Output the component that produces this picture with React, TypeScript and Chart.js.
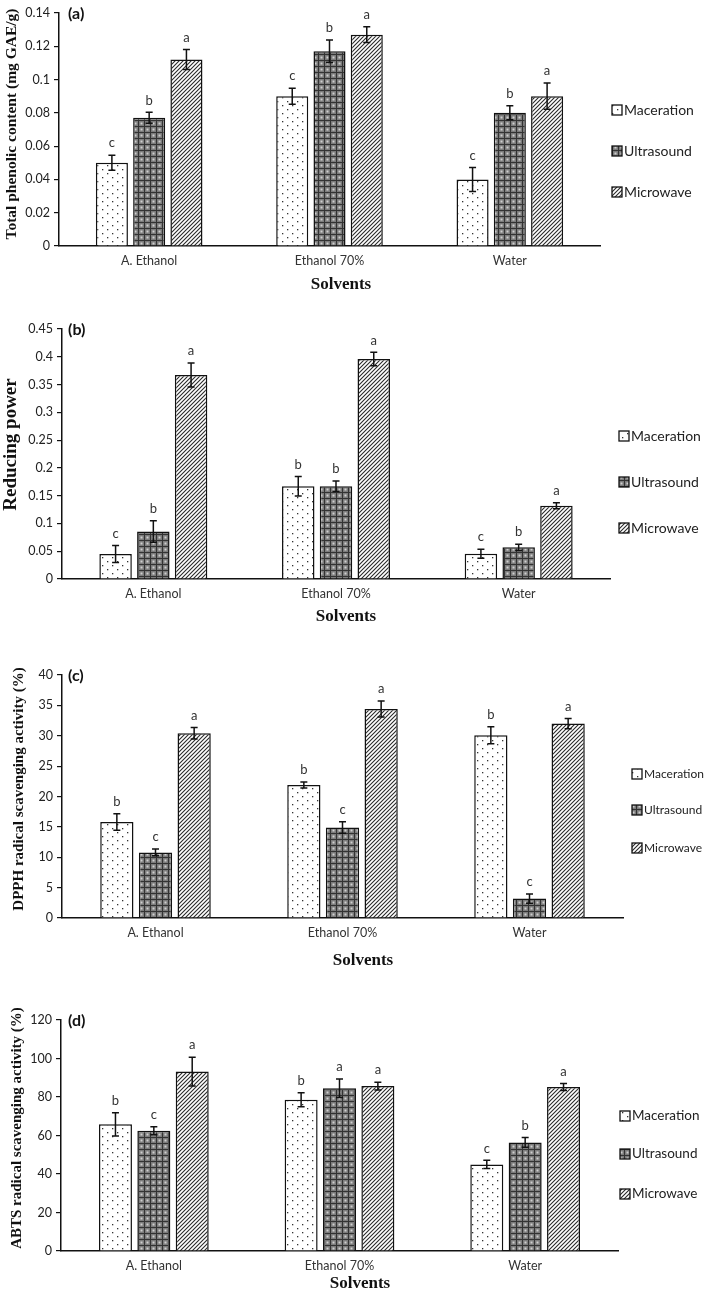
import React, { useEffect, useRef } from "react";
import { Chart, registerables } from "chart.js";
Chart.register(...registerables);

const categories = ["A. Ethanol", "Ethanol 70%", "Water"];
const seriesNames = ["Maceration", "Ultrasound", "Microwave"];

// (a) Total phenolic content
const tpcMaceration = [0.05, 0.09, 0.04];
const tpcUltrasound = [0.077, 0.117, 0.08];
const tpcMicrowave = [0.112, 0.127, 0.09];
const tpcMacerationErr = [0.0045, 0.0048, 0.0072];
const tpcUltrasoundErr = [0.0033, 0.0068, 0.0042];
const tpcMicrowaveErr = [0.006, 0.0047, 0.0079];
const tpcMacerationLetters = ["c", "c", "c"];
const tpcUltrasoundLetters = ["b", "b", "b"];
const tpcMicrowaveLetters = ["a", "a", "a"];
const tpcTicks = { max: 0.14, step: 0.02 };

// (b) Reducing power
const rpMaceration = [0.045, 0.167, 0.0455];
const rpUltrasound = [0.0855, 0.167, 0.057];
const rpMicrowave = [0.367, 0.396, 0.132];
const rpMacerationErr = [0.0155, 0.0175, 0.008];
const rpUltrasoundErr = [0.0195, 0.0095, 0.0055];
const rpMicrowaveErr = [0.0216, 0.012, 0.0054];
const rpMacerationLetters = ["c", "b", "c"];
const rpUltrasoundLetters = ["b", "b", "b"];
const rpMicrowaveLetters = ["a", "a", "a"];
const rpTicks = { max: 0.45, step: 0.05 };

// (c) DPPH
const dpphMaceration = [15.8, 21.9, 30.1];
const dpphUltrasound = [10.8, 14.9, 3.2];
const dpphMicrowave = [30.4, 34.4, 32.0];
const dpphMacerationErr = [1.35, 0.5, 1.4];
const dpphUltrasoundErr = [0.55, 0.95, 0.77];
const dpphMicrowaveErr = [0.95, 1.3, 0.85];
const dpphMacerationLetters = ["b", "b", "b"];
const dpphUltrasoundLetters = ["c", "c", "c"];
const dpphMicrowaveLetters = ["a", "a", "a"];
const dpphTicks = { max: 40, step: 5 };

// (d) ABTS
const abtsMaceration = [65.8, 78.6, 45.0];
const abtsUltrasound = [62.5, 84.5, 56.4];
const abtsMicrowave = [93.2, 85.7, 85.2];
const abtsMacerationErr = [6, 3.6, 2.1];
const abtsUltrasoundErr = [2.1, 4.8, 2.5];
const abtsMicrowaveErr = [7.5, 2, 1.8];
const abtsMacerationLetters = ["b", "b", "c"];
const abtsUltrasoundLetters = ["c", "a", "b"];
const abtsMicrowaveLetters = ["a", "a", "a"];
const abtsTicks = { max: 120, step: 20 };

const SANS = "Lato, 'Open Sans', sans-serif";
const SERIF = "'Liberation Serif', 'DejaVu Serif', serif";

function makePatterns(ctx: CanvasRenderingContext2D) {
  // dots
  const c1 = document.createElement("canvas");
  c1.width = 10; c1.height = 8;
  const g1 = c1.getContext("2d")!;
  g1.fillStyle = "#ffffff"; g1.fillRect(0, 0, 10, 8);
  g1.fillStyle = "#333333";
  g1.fillRect(2, 1, 1.3, 1.3);
  g1.fillRect(7, 5, 1.3, 1.3);
  // crosshatch gray
  const c2 = document.createElement("canvas");
  c2.width = 6; c2.height = 6;
  const g2 = c2.getContext("2d")!;
  g2.fillStyle = "#7c7c7c"; g2.fillRect(0, 0, 6, 6);
  g2.fillStyle = "#333333";
  g2.fillRect(0, 0, 6, 1);
  g2.fillRect(0, 0, 1, 6);
  g2.fillStyle = "#d0d0d0";
  g2.fillRect(2.5, 2.5, 2, 2);
  // diagonal
  const c3 = document.createElement("canvas");
  c3.width = 4; c3.height = 4;
  const g3 = c3.getContext("2d")!;
  g3.fillStyle = "#ffffff"; g3.fillRect(0, 0, 4, 4);
  g3.strokeStyle = "#2a2a2a"; g3.lineWidth = 1.1;
  g3.beginPath();
  g3.moveTo(0, 4); g3.lineTo(4, 0);
  g3.moveTo(-1, 1); g3.lineTo(1, -1);
  g3.moveTo(3, 5); g3.lineTo(5, 3);
  g3.stroke();
  return [
    ctx.createPattern(c1, "repeat")!,
    ctx.createPattern(c2, "repeat")!,
    ctx.createPattern(c3, "repeat")!,
  ];
}

type PanelCfg = {
  top: number; h: number;
  plotTop: number; plotBottom: number; axisLeft: number; plotRight: number;
  label: string; yTitle: string; yTitleSize: number; yTitleX: number; yTitleY: number;
  xTitleX: number; xTitleY: number;
  legendBoxX: number; legendYs: number[]; legendFont: number;
  values: number[][]; errors: number[][]; letters: string[][];
  ticks: { max: number; step: number };
};

const panels: PanelCfg[] = [
  {
    top: 0, h: 300, plotTop: 13, plotBottom: 246, axisLeft: 59, plotRight: 600,
    label: "(a)", yTitle: "Total phenolic content (mg GAE/g)", yTitleSize: 15.5, yTitleX: 12, yTitleY: 124,
    xTitleX: 341, xTitleY: 285, legendBoxX: 612, legendYs: [110, 151, 192], legendFont: 14,
    values: [tpcMaceration, tpcUltrasound, tpcMicrowave],
    errors: [tpcMacerationErr, tpcUltrasoundErr, tpcMicrowaveErr],
    letters: [tpcMacerationLetters, tpcUltrasoundLetters, tpcMicrowaveLetters],
    ticks: tpcTicks,
  },
  {
    top: 300, h: 335, plotTop: 329, plotBottom: 579, axisLeft: 62, plotRight: 610,
    label: "(b)", yTitle: "Reducing power", yTitleSize: 19, yTitleX: 11, yTitleY: 444.5,
    xTitleX: 346, xTitleY: 617, legendBoxX: 619, legendYs: [436, 482, 528], legendFont: 14,
    values: [rpMaceration, rpUltrasound, rpMicrowave],
    errors: [rpMacerationErr, rpUltrasoundErr, rpMicrowaveErr],
    letters: [rpMacerationLetters, rpUltrasoundLetters, rpMicrowaveLetters],
    ticks: rpTicks,
  },
  {
    top: 635, h: 340, plotTop: 675, plotBottom: 918, axisLeft: 62, plotRight: 623,
    label: "(c)", yTitle: "DPPH radical scavenging activity (%)", yTitleSize: 15, yTitleX: 19, yTitleY: 789,
    xTitleX: 363, xTitleY: 961, legendBoxX: 632, legendYs: [774, 810, 848], legendFont: 12,
    values: [dpphMaceration, dpphUltrasound, dpphMicrowave],
    errors: [dpphMacerationErr, dpphUltrasoundErr, dpphMicrowaveErr],
    letters: [dpphMacerationLetters, dpphUltrasoundLetters, dpphMicrowaveLetters],
    ticks: dpphTicks,
  },
  {
    top: 975, h: 318, plotTop: 1020, plotBottom: 1251, axisLeft: 61, plotRight: 618,
    label: "(d)", yTitle: "ABTS radical scavenging activity (%)", yTitleSize: 15, yTitleX: 17, yTitleY: 1128,
    xTitleX: 360, xTitleY: 1284, legendBoxX: 620, legendYs: [1116, 1154, 1194], legendFont: 13.5,
    values: [abtsMaceration, abtsUltrasound, abtsMicrowave],
    errors: [abtsMacerationErr, abtsUltrasoundErr, abtsMicrowaveErr],
    letters: [abtsMacerationLetters, abtsUltrasoundLetters, abtsMicrowaveLetters],
    ticks: abtsTicks,
  },
];

function Panel({ cfg }: { cfg: PanelCfg }) {
  const ref = useRef<HTMLCanvasElement>(null);
  useEffect(() => {
    const canvas = ref.current!;
    const ctx0 = canvas.getContext("2d")!;
    const patterns = makePatterns(ctx0);
    const off = cfg.top;

    const decor = {
      id: "decor",
      afterDatasetsDraw(chart: any) {
        const ctx = chart.ctx as CanvasRenderingContext2D;
        const y = chart.scales.y;
        chart.data.datasets.forEach((ds: any, di: number) => {
          const meta = chart.getDatasetMeta(di);
          meta.data.forEach((el: any, i: number) => {
            const v = ds.data[i];
            const e = cfg.errors[di][i];
            const yTop = y.getPixelForValue(v + e);
            const yBot = y.getPixelForValue(v - e);
            ctx.save();
            ctx.strokeStyle = "#111";
            ctx.lineWidth = 1.5;
            ctx.beginPath();
            ctx.moveTo(el.x, yTop); ctx.lineTo(el.x, yBot);
            ctx.moveTo(el.x - 3.5, yTop); ctx.lineTo(el.x + 3.5, yTop);
            ctx.moveTo(el.x - 3.5, yBot); ctx.lineTo(el.x + 3.5, yBot);
            ctx.stroke();
            ctx.font = `13px ${SANS}`;
            ctx.fillStyle = "#333";
            ctx.textAlign = "center";
            ctx.textBaseline = "middle";
            ctx.fillText(cfg.letters[di][i], el.x, yTop - 12);
            ctx.restore();
          });
        });
      },
      afterDraw(chart: any) {
        const ctx = chart.ctx as CanvasRenderingContext2D;
        ctx.save();
        // panel label
        ctx.font = `bold 16px ${SANS}`;
        ctx.fillStyle = "#111";
        ctx.textAlign = "left";
        ctx.textBaseline = "middle";
        ctx.fillText(cfg.label, 68, cfg.plotTop - off + 1);
        // y title
        ctx.save();
        ctx.translate(cfg.yTitleX, cfg.yTitleY - off);
        ctx.rotate(-Math.PI / 2);
        ctx.font = `bold ${cfg.yTitleSize}px ${SERIF}`;
        ctx.textAlign = "center";
        ctx.textBaseline = "middle";
        ctx.fillText(cfg.yTitle, 0, 0);
        ctx.restore();
        // x title
        ctx.font = `bold 17px ${SERIF}`;
        ctx.textAlign = "center";
        ctx.textBaseline = "middle";
        ctx.fillText("Solvents", cfg.xTitleX, cfg.xTitleY - off);
        // legend
        chart.data.datasets.forEach((ds: any, di: number) => {
          const ly = cfg.legendYs[di] - off;
          const bx = cfg.legendBoxX;
          ctx.fillStyle = ds.backgroundColor;
          ctx.fillRect(bx, ly - 5, 10, 10);
          ctx.strokeStyle = "#111";
          ctx.lineWidth = 1.3;
          ctx.strokeRect(bx, ly - 5, 10, 10);
          ctx.fillStyle = "#222";
          ctx.font = `${cfg.legendFont}px ${SANS}`;
          ctx.textAlign = "left";
          ctx.fillText(ds.label, bx + 12, ly);
        });
        ctx.restore();
      },
    };

    const chart = new Chart(canvas, {
      type: "bar",
      data: {
        labels: categories,
        datasets: seriesNames.map((name, i) => ({
          label: name,
          data: cfg.values[i],
          backgroundColor: patterns[i] as any,
          borderColor: "#111",
          borderWidth: 1.5,
          categoryPercentage: 0.62,
          barPercentage: 0.86,
        })),
      },
      options: {
        responsive: false,
        animation: false,
        devicePixelRatio: 1,
        layout: {
          padding: { left: 0, top: cfg.plotTop - off, right: 709 - cfg.plotRight, bottom: 0 },
        },
        plugins: { legend: { display: false }, tooltip: { enabled: false } },
        scales: {
          x: {
            grid: { display: false, drawTicks: false },
            border: { display: true, color: "#111", width: 1.5 },
            ticks: { color: "#333", font: { family: SANS, size: 12.5 }, padding: 7 },
            afterFit: (s: any) => { s.height = cfg.h - (cfg.plotBottom - off); },
          },
          y: {
            min: 0,
            max: cfg.ticks.max,
            ticks: {
              stepSize: cfg.ticks.step,
              color: "#222",
              font: { family: SANS, size: 12.5 },
              padding: 4,
              callback: (v: any) => String(Number(Number(v).toFixed(4))),
            },
            grid: { display: true, drawOnChartArea: false, drawTicks: true, tickLength: 5, color: "#111", lineWidth: 1.2 },
            border: { display: true, color: "#111", width: 1.5 },
            afterFit: (s: any) => { s.width = cfg.axisLeft; },
          },
        },
      },
      plugins: [decor],
    });
    return () => chart.destroy();
  }, []);
  return (
    <canvas
      ref={ref}
      width={709}
      height={cfg.h}
      style={{ position: "absolute", left: 0, top: cfg.top, width: 709, height: cfg.h }}
    />
  );
}

export default function App() {
  return (
    <div style={{ position: "absolute", left: 0, top: 0, width: 709, height: 1293, background: "#fff" }}>
      {panels.map((p, i) => (
        <Panel key={i} cfg={p} />
      ))}
    </div>
  );
}
